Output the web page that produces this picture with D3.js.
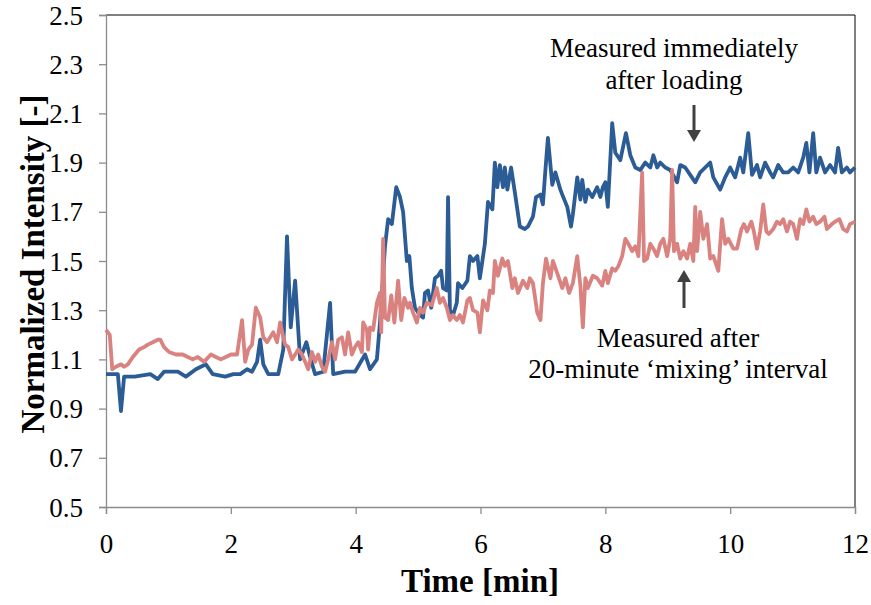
<!DOCTYPE html>
<html><head><meta charset="utf-8">
<script src="https://cdn.jsdelivr.net/npm/d3@7"></script>
<style>
html,body{margin:0;padding:0;background:#fff;}
svg{display:block;}
</style></head>
<body>
<svg id="chart" width="871" height="605"></svg>
<script>
const xTicks = [0, 2, 4, 6, 8, 10, 12];
const yTicks = [0.5, 0.7, 0.9, 1.1, 1.3, 1.5, 1.7, 1.9, 2.1, 2.3, 2.5];
const xTitle = "Time [min]";
const yTitle = "Normalized Intensity [-]";
const annoTop = ["Measured immediately", "after loading"];
const annoBottom = ["Measured after", "20-minute \u2018mixing\u2019 interval"];

// Series 1: measured immediately after loading (blue)
const blueT = [0,0.19,0.24,0.29,0.46,0.71,0.83,0.93,1.15,1.28,1.44,1.60,1.71,1.91,2.04,2.15,2.26,2.34,2.42,2.47,2.52,2.60,2.76,2.84,2.90,2.96,3.03,3.11,3.21,3.27,3.35,3.48,3.59,3.64,3.83,3.99,4.15,4.23,4.34,4.39,4.47,4.52,4.58,4.65,4.71,4.76,4.82,4.86,4.90,4.95,5.03,5.08,5.11,5.16,5.21,5.27,5.32,5.37,5.40,5.46,5.48,5.51,5.56,5.62,5.64,5.71,5.79,5.83,5.88,5.95,5.99,6.07,6.12,6.19,6.23,6.27,6.31,6.36,6.39,6.43,6.49,6.55,6.63,6.71,6.76,6.84,6.89,6.96,7.00,7.04,7.08,7.15,7.20,7.28,7.31,7.39,7.45,7.48,7.55,7.60,7.63,7.68,7.72,7.79,7.87,7.92,7.96,8.00,8.04,8.11,8.16,8.24,8.33,8.40,8.48,8.56,8.64,8.72,8.77,8.83,8.88,8.96,9.04,9.15,9.20,9.28,9.36,9.44,9.52,9.60,9.68,9.73,9.84,9.92,10.00,10.08,10.16,10.21,10.29,10.35,10.43,10.48,10.56,10.64,10.69,10.77,10.85,10.93,11.01,11.09,11.17,11.22,11.27,11.33,11.38,11.44,11.52,11.60,11.68,11.73,11.79,11.87,11.92,12.00];
const blueV = [1.04,1.04,0.89,1.03,1.03,1.04,1.02,1.05,1.05,1.03,1.06,1.08,1.04,1.03,1.04,1.04,1.06,1.05,1.09,1.18,1.08,1.04,1.04,1.14,1.60,1.23,1.42,1.10,1.17,1.11,1.04,1.05,1.33,1.04,1.05,1.05,1.12,1.06,1.10,1.25,1.56,1.67,1.65,1.80,1.76,1.70,1.50,1.52,1.39,1.31,1.28,1.27,1.37,1.38,1.31,1.43,1.44,1.46,1.39,1.38,1.76,1.30,1.28,1.33,1.41,1.39,1.42,1.52,1.50,1.52,1.43,1.57,1.74,1.71,1.90,1.80,1.89,1.80,1.88,1.79,1.88,1.78,1.64,1.63,1.64,1.68,1.76,1.77,1.73,1.87,2.00,1.81,1.86,1.79,1.77,1.72,1.64,1.69,1.84,1.75,1.83,1.74,1.79,1.76,1.80,1.76,1.80,1.82,1.72,2.06,1.94,1.91,2.02,1.93,1.88,1.87,1.90,1.88,1.93,1.88,1.90,1.88,1.87,1.82,1.89,1.88,1.85,1.82,1.86,1.88,1.90,1.84,1.79,1.84,1.88,1.84,1.92,1.86,2.02,1.85,1.89,1.84,1.90,1.86,1.84,1.89,1.86,1.86,1.88,1.86,1.92,1.98,1.86,2.02,1.86,1.92,1.86,1.89,1.86,1.96,1.86,1.88,1.86,1.88];

// Series 2: measured after 20-minute mixing interval (pink)
const pinkT = [0,0.03,0.06,0.10,0.16,0.24,0.29,0.35,0.43,0.53,0.61,0.67,0.75,0.83,0.87,0.93,1.01,1.12,1.23,1.31,1.39,1.47,1.57,1.68,1.76,1.84,1.92,2.00,2.10,2.18,2.23,2.28,2.34,2.40,2.47,2.52,2.58,2.63,2.68,2.74,2.79,2.84,2.87,2.92,2.98,3.03,3.08,3.14,3.19,3.24,3.30,3.35,3.40,3.46,3.51,3.56,3.62,3.67,3.72,3.78,3.83,3.88,3.94,3.99,4.04,4.10,4.12,4.18,4.20,4.23,4.28,4.34,4.39,4.41,4.44,4.47,4.52,4.57,4.62,4.68,4.73,4.78,4.84,4.87,4.92,4.98,5.03,5.08,5.14,5.22,5.30,5.35,5.40,5.46,5.51,5.56,5.62,5.67,5.72,5.79,5.83,5.88,5.95,5.99,6.04,6.11,6.15,6.20,6.23,6.28,6.35,6.39,6.44,6.51,6.55,6.60,6.68,6.75,6.79,6.84,6.91,6.96,7.00,7.05,7.12,7.16,7.23,7.31,7.36,7.42,7.48,7.55,7.60,7.64,7.68,7.72,7.80,7.87,7.95,8.00,8.04,8.11,8.16,8.21,8.27,8.32,8.37,8.43,8.48,8.53,8.59,8.62,8.67,8.72,8.77,8.83,8.88,8.93,8.99,9.04,9.07,9.10,9.15,9.20,9.25,9.31,9.36,9.41,9.44,9.47,9.52,9.57,9.63,9.68,9.73,9.81,9.87,9.92,9.97,10.05,10.11,10.18,10.22,10.27,10.34,10.38,10.43,10.48,10.53,10.58,10.62,10.69,10.75,10.80,10.85,10.91,10.96,11.01,11.07,11.12,11.17,11.22,11.27,11.33,11.38,11.44,11.51,11.55,11.63,11.68,11.75,11.81,11.87,11.92,12.00];
const pinkV = [1.22,1.21,1.20,1.06,1.07,1.08,1.07,1.08,1.11,1.14,1.15,1.16,1.17,1.18,1.18,1.15,1.13,1.12,1.12,1.11,1.10,1.11,1.09,1.12,1.11,1.10,1.11,1.12,1.12,1.26,1.09,1.14,1.16,1.31,1.27,1.19,1.17,1.19,1.21,1.17,1.25,1.19,1.16,1.15,1.10,1.12,1.14,1.12,1.09,1.06,1.13,1.09,1.12,1.07,1.05,1.10,1.17,1.10,1.18,1.19,1.12,1.21,1.12,1.15,1.17,1.13,1.25,1.22,1.14,1.23,1.22,1.33,1.37,1.21,1.59,1.27,1.26,1.36,1.25,1.42,1.26,1.35,1.31,1.33,1.29,1.25,1.31,1.29,1.33,1.32,1.39,1.33,1.35,1.31,1.26,1.28,1.26,1.28,1.25,1.34,1.35,1.30,1.29,1.21,1.34,1.30,1.38,1.37,1.50,1.44,1.51,1.48,1.50,1.39,1.43,1.37,1.42,1.39,1.43,1.41,1.29,1.26,1.41,1.51,1.43,1.50,1.45,1.39,1.43,1.37,1.41,1.52,1.40,1.23,1.43,1.39,1.44,1.43,1.40,1.46,1.41,1.47,1.46,1.48,1.52,1.59,1.57,1.54,1.56,1.52,1.86,1.50,1.51,1.57,1.55,1.52,1.57,1.59,1.52,1.59,1.87,1.54,1.57,1.51,1.54,1.51,1.57,1.50,1.72,1.54,1.70,1.59,1.65,1.51,1.52,1.46,1.67,1.57,1.59,1.55,1.55,1.63,1.65,1.62,1.66,1.62,1.55,1.62,1.73,1.62,1.61,1.63,1.66,1.65,1.67,1.62,1.66,1.65,1.59,1.67,1.65,1.71,1.66,1.68,1.65,1.66,1.68,1.63,1.65,1.66,1.67,1.63,1.62,1.65,1.66];

const blueColor = "#2b5c95";
const pinkColor = "#d9827f";
const serif = "'Liberation Serif','Times New Roman',serif";

const svg = d3.select("#chart");
const L = 106, R = 855, T = 15, B = 507;
const x = d3.scaleLinear().domain([0, 12]).range([L, R]);
const y = d3.scaleLinear().domain([0.5, 2.5]).range([B, T]);

// frame top/right
svg.append("line").attr("x1", L).attr("x2", R).attr("y1", T).attr("y2", T).attr("stroke", "#000").attr("stroke-width", 1);
svg.append("line").attr("x1", R).attr("x2", R).attr("y1", T).attr("y2", B).attr("stroke", "#000").attr("stroke-width", 1);

// y axis
const gy = svg.append("g").attr("transform", `translate(${L},0)`)
  .call(d3.axisLeft(y).tickValues(yTicks).tickFormat(d3.format(".1f")).tickSize(7).tickPadding(16));
gy.select(".domain").attr("stroke", "#8c8c8c").attr("stroke-width", 1.3);
gy.selectAll(".tick line").attr("stroke", "#8c8c8c").attr("stroke-width", 1.3);
gy.selectAll(".tick text").attr("font-family", serif).attr("font-size", 27).attr("fill", "#000").attr("dy", "0.34em");

// x axis
const gx = svg.append("g").attr("transform", `translate(0,${B})`)
  .call(d3.axisBottom(x).tickValues(xTicks).tickFormat(d3.format("d")).tickSize(7).tickPadding(20));
gx.select(".domain").attr("stroke", "#8c8c8c").attr("stroke-width", 1.3);
gx.selectAll(".tick line").attr("stroke", "#8c8c8c").attr("stroke-width", 1.3);
gx.selectAll(".tick text").attr("font-family", serif).attr("font-size", 27).attr("fill", "#000");

// lines
const line = d3.line().x(d => x(d[0])).y(d => y(d[1]));
const blueData = blueT.map((t, i) => [t, blueV[i]]);
const pinkData = pinkT.map((t, i) => [t, pinkV[i]]);
svg.append("path").datum(blueData).attr("d", line).attr("fill", "none")
  .attr("stroke", blueColor).attr("stroke-width", 3.8).attr("stroke-linejoin", "round");
svg.append("path").datum(pinkData).attr("d", line).attr("fill", "none")
  .attr("stroke", pinkColor).attr("stroke-width", 3.8).attr("stroke-linejoin", "round");

// axis titles
svg.append("text").attr("x", 480).attr("y", 592).attr("text-anchor", "middle")
  .attr("font-family", serif).attr("font-weight", "bold").attr("font-size", 33).text(xTitle);
svg.append("text").attr("transform", "translate(44,264) rotate(-90)").attr("text-anchor", "middle")
  .attr("font-family", serif).attr("font-weight", "bold").attr("font-size", 33).text(yTitle);

// annotations
const annoG = svg.append("g").attr("font-family", serif).attr("font-size", 27).attr("fill", "#000").attr("text-anchor", "middle");
annoG.append("text").attr("x", 674).attr("y", 57).text(annoTop[0]);
annoG.append("text").attr("x", 674).attr("y", 89).text(annoTop[1]);
annoG.append("text").attr("x", 678).attr("y", 347).text(annoBottom[0]);
annoG.append("text").attr("x", 678).attr("y", 378).text(annoBottom[1]);

// arrows
const arrowColor = "#404040";
svg.append("line").attr("x1", 694).attr("x2", 694).attr("y1", 105).attr("y2", 132).attr("stroke", arrowColor).attr("stroke-width", 3);
svg.append("path").attr("d", "M687,130 L701,130 L694,142 Z").attr("fill", arrowColor);
svg.append("line").attr("x1", 684).attr("x2", 684).attr("y1", 308).attr("y2", 280).attr("stroke", arrowColor).attr("stroke-width", 3);
svg.append("path").attr("d", "M677,282 L691,282 L684,270 Z").attr("fill", arrowColor);
</script>
</body></html>
